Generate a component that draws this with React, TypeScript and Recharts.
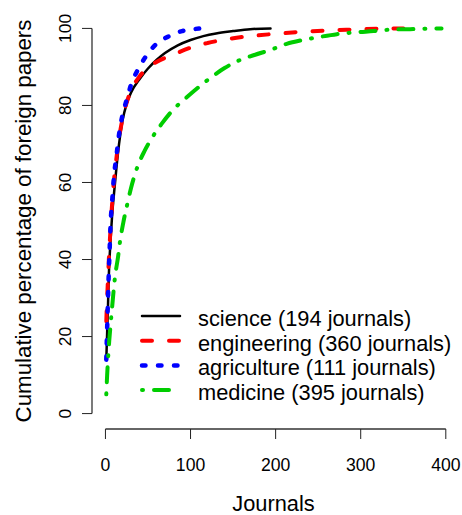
import { LineChart, Line, XAxis, YAxis, Legend, ReferenceLine, Label } from "recharts";

// journal rank (x) and cumulative % of foreign papers (y)
const scienceRank = [1, 2, 3, 4, 5, 6, 8, 10, 13, 16, 20, 25, 30, 40, 50, 60, 70, 85, 100, 115, 130, 150, 170, 194];
const sciencePct = [14, 21, 28, 36, 41, 45, 52, 57, 64, 70, 76, 80.5, 83.3, 86.8, 89.6, 91.8, 93.6, 95.6, 97, 98, 98.7, 99.3, 99.8, 100];

const engineeringRank = [1, 2, 3, 4, 6, 8, 10, 13, 16, 20, 25, 30, 40, 50, 60, 80, 100, 120, 140, 170, 200, 230, 260, 290, 320, 360];
const engineeringPct = [24, 30, 35, 40, 48, 55, 60.5, 66.5, 71.5, 76.5, 80.8, 83.8, 87.5, 89.8, 91.3, 93.2, 95, 96.2, 97.1, 98, 98.6, 99.1, 99.45, 99.7, 99.9, 100];

const agricultureRank = [1, 2, 3, 4, 5, 6, 8, 10, 13, 16, 20, 25, 30, 40, 50, 60, 75, 90, 100, 111];
const agriculturePct = [14, 22, 30, 37, 43, 49, 55.5, 61.5, 67, 72.5, 77.5, 81.5, 85.3, 90, 93.5, 96, 98, 99.3, 99.7, 100];

const medicineRank = [1, 2, 3, 4, 6, 8, 11, 15, 17, 21, 26, 30, 37, 46, 55, 66, 80, 95, 120, 140, 156, 175, 195, 213, 232, 252, 272, 295, 315, 336, 358, 380, 395];
const medicinePct = [5, 10, 14, 17.5, 23, 28, 35, 41, 44.5, 49.6, 54.7, 58.5, 63.7, 68.2, 71.7, 75.2, 79, 82, 86.6, 89.7, 91.6, 93.1, 94.5, 96, 97, 97.8, 98.5, 99, 99.3, 99.7, 99.8, 99.95, 100];

const xTicks = [0, 100, 200, 300, 400];
const yTicks = [0, 20, 40, 60, 80, 100];

const font = "'Liberation Sans', Arial, sans-serif";

const zip = (xs: number[], ys: number[]) => xs.map((x, i) => ({ x, y: ys[i] }));

const series = [
  { name: "science (194 journals)", data: zip(scienceRank, sciencePct), color: "#000000", width: 2.5, dash: undefined },
  { name: "engineering (360 journals)", data: zip(engineeringRank, engineeringPct), color: "#ff0000", width: 4, dash: "10 17" },
  { name: "agriculture (111 journals)", data: zip(agricultureRank, agriculturePct), color: "#0000ff", width: 4.5, dash: "3.5 12.5" },
  { name: "medicine (395 journals)", data: zip(medicineRank, medicinePct), color: "#00cd00", width: 4, dash: "1 11 15 11" },
];

function YTick(props: any) {
  const { x, y, payload } = props;
  const tx = x - 9;
  return (
    <text x={tx} y={y} transform={`rotate(-90, ${tx}, ${y})`} textAnchor="middle" fontSize={17.4} fontFamily={font} fill="#000">
      {payload.value}
    </text>
  );
}

function LegendBox() {
  return (
    <svg width={330} height={110}>
      {series.map((s, i) => {
        const ly = 16 + i * 24.7;
        return (
          <g key={s.name}>
            <line x1={12} x2={50} y1={ly} y2={ly} stroke={s.color} strokeWidth={s.width} strokeDasharray={s.dash} strokeLinecap="round" />
            <text x={68} y={ly + 10} fontSize={21.8} fontFamily={font} fill="#000">{s.name}</text>
          </g>
        );
      })}
    </svg>
  );
}

export default function App() {
  return (
    <div style={{ position: "absolute", left: 0, top: 0 }}>
      <LineChart width={462} height={515} margin={{ top: 13, right: 7, left: 0, bottom: 0 }}>
        <XAxis
          dataKey="x"
          type="number"
          domain={[-15.8, 410.8]}
          ticks={xTicks}
          allowDataOverflow
          axisLine={false}
          tickSize={10}
          tickMargin={20}
          tickLine={{ stroke: "#222" }}
          tick={{ fontSize: 17.6, fontFamily: font, fill: "#000" }}
          height={86}
        >
          <Label value="Journals" position="insideBottom" offset={4} style={{ fontSize: 21.8, fontFamily: font, fill: "#000" }} />
        </XAxis>
        <YAxis
          type="number"
          domain={[-4, 104]}
          ticks={yTicks}
          allowDataOverflow
          axisLine={false}
          tickSize={10}
          tickLine={{ stroke: "#222" }}
          tick={<YTick />}
          width={92}
        >
          <Label
            content={(p: any) => {
              const vb = p.viewBox;
              const cx = 31;
              const cy = vb.y + vb.height / 2;
              return (
                <text x={cx} y={cy} transform={`rotate(-90, ${cx}, ${cy})`} textAnchor="middle" fontSize={22.3} fontFamily={font} fill="#000">
                  Cumulative percentage of foreign papers
                </text>
              );
            }}
          />
        </YAxis>
        <ReferenceLine segment={[{ x: 0, y: -4 }, { x: 400, y: -4 }]} stroke="#333" strokeWidth={1.3} ifOverflow="visible" />
        <ReferenceLine segment={[{ x: -15.8, y: 0 }, { x: -15.8, y: 100 }]} stroke="#333" strokeWidth={1.3} ifOverflow="visible" />
        {series.map((s) => (
          <Line
            key={s.name}
            data={s.data}
            dataKey="y"
            name={s.name}
            type="monotone"
            stroke={s.color}
            strokeWidth={s.width}
            strokeDasharray={s.dash}
            strokeLinecap="round"
            dot={false}
            activeDot={false}
            isAnimationActive={false}
          />
        ))}
        <Legend
          layout="vertical"
          align="center"
          verticalAlign="middle"
          wrapperStyle={{ left: 130, top: 300, width: 330, height: 110 }}
          content={() => <LegendBox />}
        />
      </LineChart>
    </div>
  );
}
